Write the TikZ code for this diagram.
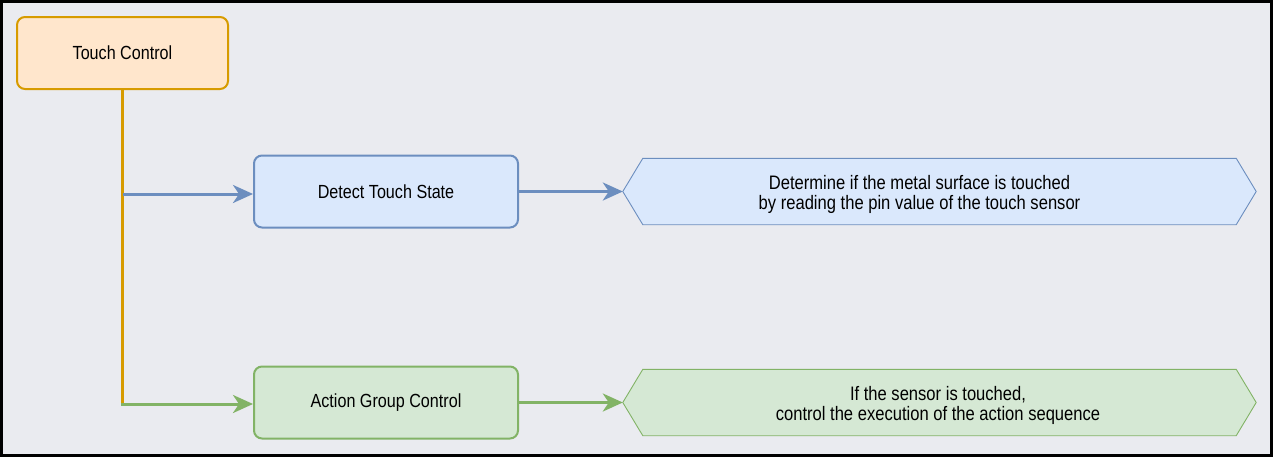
\documentclass[tikz,border=0pt]{standalone}
\usepackage{fontspec}
\setmainfont{Liberation Sans}[FakeStretch=0.85]
\usetikzlibrary{arrows.meta}
\definecolor{bgc}{HTML}{EAEBF0}
\definecolor{orfill}{HTML}{FFE6CC}
\definecolor{orline}{HTML}{D79B00}
\definecolor{blfill}{HTML}{DAE8FC}
\definecolor{blline}{HTML}{6C8EBF}
\definecolor{grfill}{HTML}{D5E8D4}
\definecolor{grline}{HTML}{82B366}
\tikzset{
  box/.style={draw, line width=2pt, rounded corners=8pt, minimum width=264pt, minimum height=72pt, inner sep=0pt, font=\fontsize{19}{22}\selectfont, text=black},
  hexbox/.style={minimum width=633pt, minimum height=66pt, inner sep=0pt, align=center, font=\fontsize{19.5}{20}\selectfont, text=black},
  hexline/.style={line width=0.9pt},
  conn/.style={line width=3pt, -{Stealth[length=20pt, width=18pt, inset=6pt]}},
}
\begin{document}
\begin{tikzpicture}[x=1pt,y=-1pt]
\useasboundingbox (0,0) rectangle (1274,458);
\draw[fill=bgc, line width=2.5pt] (1.5,1.5) rectangle (1271.5,455.5);

\node[box, fill=orfill, draw=orline, minimum width=211pt] (tc) at (122.5,53) {Touch Control};
\node[box, fill=blfill, draw=blline] (dt) at (386,191.5) {Detect Touch State};
\node[box, fill=grfill, draw=grline] (ag) at (386,402.5) {Action Group Control};

\node[hexbox] (h1) at (939.5,191.5) {};
\draw[hexline, draw=blline, fill=blfill] (h1.west) -- ([xshift=20pt]h1.north west) -- ([xshift=-20pt]h1.north east) -- (h1.east) -- ([xshift=-20pt]h1.south east) -- ([xshift=20pt]h1.south west) -- cycle;
\node[hexbox, minimum width=0pt, minimum height=0pt] (t1) at ([xshift=-20pt,yshift=-2.5pt]h1.center) {Determine if the metal surface is touched\\by reading the pin value of the touch sensor};

\node[hexbox] (h2) at (939.5,402.5) {};
\draw[hexline, draw=grline, fill=grfill] (h2.west) -- ([xshift=20pt]h2.north west) -- ([xshift=-20pt]h2.north east) -- (h2.east) -- ([xshift=-20pt]h2.south east) -- ([xshift=20pt]h2.south west) -- cycle;
\node[hexbox, minimum width=0pt, minimum height=0pt] (t2) at ([xshift=-1.5pt,yshift=-2.5pt]h2.center) {If the sensor is touched,\\control the execution of the action sequence};

\coordinate (j1) at (122.5,194);
\coordinate (j2) at (122.5,404);
\draw[line width=3pt, draw=orline] (tc.south) -- (j2);
\draw[conn, draw=blline, fill=blline] (j1) -- (j1 -| dt.west);
\draw[conn, draw=grline, fill=grline] ([xshift=-1.5pt]j2) -- (j2 -| ag.west);
\draw[conn, draw=blline, fill=blline] (dt.east) -- (h1.west);
\draw[conn, draw=grline, fill=grline] (ag.east) -- (h2.west);
\end{tikzpicture}
\end{document}
